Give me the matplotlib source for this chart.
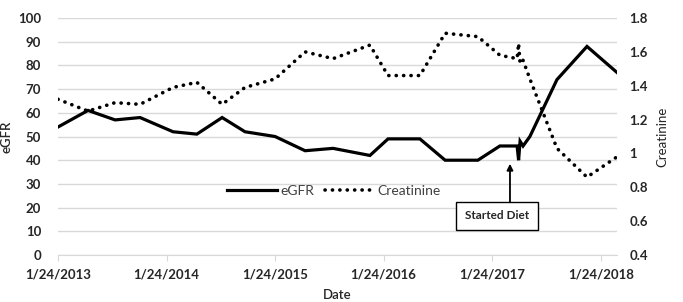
import matplotlib
matplotlib.use("Agg")
import matplotlib.pyplot as plt
import pandas as pd

plt.rcParams['font.family'] = ['Lato', 'DejaVu Sans']

# lab draws (shared dates for both series)
dates = ["2013-01-24", "2013-05-05", "2013-08-04", "2013-10-27", "2014-02-15",
         "2014-05-06", "2014-07-30", "2014-10-15", "2015-01-24", "2015-05-05",
         "2015-08-07", "2015-12-09", "2016-02-08", "2016-05-25", "2016-08-18",
         "2016-12-06", "2017-02-18", "2017-04-17", "2017-04-22", "2017-04-27",
         "2017-05-07", "2017-05-30", "2017-08-29", "2017-12-08", "2018-03-19"]
egfr = [54, 61, 57, 58, 52, 51, 58, 52, 50, 44, 45, 42, 49, 49, 40, 40,
        46, 46, 40, 48, 46, 50, 74, 88, 77]
creatinine = [1.32, 1.25, 1.30, 1.29, 1.39, 1.42, 1.29, 1.39, 1.44, 1.60,
              1.56, 1.64, 1.46, 1.46, 1.71, 1.69, 1.58, 1.56, 1.65, 1.53,
              1.55, 1.44, 1.03, 0.86, 0.98]
tick_dates = ["2013-01-24", "2014-01-24", "2015-01-24", "2016-01-24",
              "2017-01-24", "2018-01-24"]
tick_labels = ["1/24/2013", "1/24/2014", "1/24/2015", "1/24/2016",
               "1/24/2017", "1/24/2018"]
diet_text = "Started Diet"
diet_arrow_date = "2017-03-24"
diet_box_date = "2017-02-08"

d = pd.to_datetime(dates)
grid_c = "#d9d9d9"
txt_c = "#262626"

fig = plt.figure(figsize=(6.83, 3.02), dpi=100)
ax = fig.add_axes([0.0849, 0.1556, 0.8185, 0.7848])
ax2 = ax.twinx()

l1, = ax.plot(d, egfr, color="black", lw=2.3, solid_joinstyle="miter", label="eGFR")
l2, = ax2.plot(d, creatinine, color="black", lw=2.6, dash_capstyle="round",
               linestyle=(0, (0.05, 2.0)), label="Creatinine")

ax.set_xlim(d[0], d[-1])
ax.set_ylim(0, 100)
ax.set_yticks(range(0, 101, 10))
ax2.set_ylim(0.4, 1.8)
ax2.set_yticks([0.4, 0.6, 0.8, 1.0, 1.2, 1.4, 1.6, 1.8])
ax2.set_yticklabels(["0.4", "0.6", "0.8", "1", "1.2", "1.4", "1.6", "1.8"])

ax.set_xticks(pd.to_datetime(tick_dates))
ax.set_xticklabels(tick_labels)

ax.grid(axis="y", color=grid_c, lw=1)
ax.set_axisbelow(True)
for a in (ax, ax2):
    for s in ("top", "left", "right"):
        a.spines[s].set_visible(False)
    a.spines["bottom"].set_color(grid_c)
ax2.spines["bottom"].set_visible(False)

ax.tick_params(axis="x", colors=grid_c, length=4, pad=6, labelcolor=txt_c, labelsize=9.5)
ax.tick_params(axis="y", length=0, pad=12, labelcolor=txt_c, labelsize=9.5)
ax2.tick_params(axis="y", length=0, pad=9, labelcolor=txt_c, labelsize=9.5)
for t in ax.get_xticklabels() + ax.get_yticklabels() + ax2.get_yticklabels():
    t.set_fontweight("bold")

ax.set_ylabel("eGFR", fontsize=9.5, color=txt_c, labelpad=4, fontweight="semibold")
ax2.set_ylabel("Creatinine", fontsize=9.5, color=txt_c, labelpad=6)
ax.set_xlabel("Date", fontsize=9.5, color=txt_c, labelpad=6, fontweight="semibold")

ax.legend(handles=[l1, l2], loc="center", bbox_to_anchor=(0.494, 0.271),
          ncol=2, frameon=False, fontsize=10, handlelength=3.6,
          columnspacing=0.8, handletextpad=0.2,
          labelcolor="#404040")

ax.annotate("", xy=(pd.Timestamp(diet_arrow_date), 38.5),
            xytext=(pd.Timestamp(diet_arrow_date), 22.5),
            arrowprops=dict(arrowstyle="-|>", color="black", lw=1.3,
                            mutation_scale=9, shrinkA=0, shrinkB=0))
ax.text(pd.Timestamp(diet_box_date), 16.5, diet_text, ha="center", va="center",
        fontsize=8.5, fontweight="bold", color=txt_c,
        bbox=dict(boxstyle="square,pad=0.75", fc="white", ec="black", lw=1))

fig.savefig("out.png", dpi=100)
